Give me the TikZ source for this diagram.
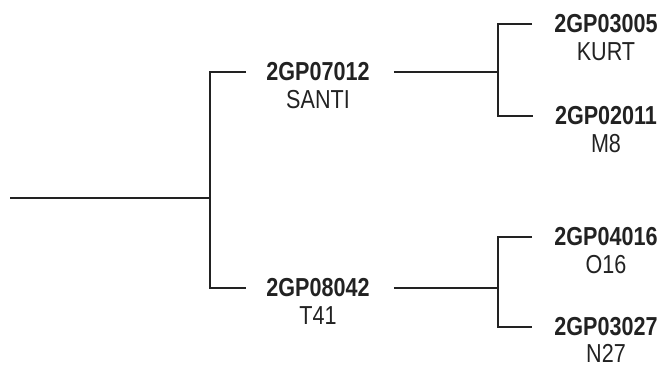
\documentclass[tikz,border=0pt]{standalone}
\usepackage{fontspec}
\setmainfont{Liberation Sans}[FakeStretch=0.83]
\definecolor{ink}{HTML}{222222}
\begin{document}
\begin{tikzpicture}[x=1pt,y=-1pt,
  codebox/.style={font=\fontsize{26}{30}\selectfont\bfseries,text=ink,inner sep=0pt},
  namebox/.style={font=\fontsize{26}{30}\selectfont,text=ink,inner sep=0pt},
  edge/.style={draw=ink,line width=1.1pt}]
\useasboundingbox (0,0) rectangle (661,364);
% labels
\node[codebox] (a) at (318,72) {2GP07012};
\node[namebox] (as) at (318,100) {SANTI};
\node[codebox] (b) at (318,288) {2GP08042};
\node[namebox] (bs) at (318,316) {T41};
\node[codebox] (c) at (606,24) {2GP03005};
\node[namebox] (cs) at (606,52) {KURT};
\node[codebox] (d) at (606,116) {2GP02011};
\node[namebox] (ds) at (606,144) {M8};
\node[codebox] (e) at (606,237) {2GP04016};
\node[namebox] (es) at (606,265) {O16};
\node[codebox] (f) at (606,327) {2GP03027};
\node[namebox] (fs) at (606,353) {N27};
% junctions
\coordinate (r) at (10,198);
\coordinate (j0) at (210,198);
\coordinate (j1) at (498,72);
\coordinate (j2) at (498,288);
% connectors
\draw[edge] (r) -- (j0);
\draw[edge] ([xshift=-20pt]a.west) -| (j0) |- ([xshift=-20pt]b.west);
\draw[edge] ([xshift=24pt]a.east) -- (a.east -| j1);
\draw[edge] ([xshift=-22pt]c.west) -| (j1) |- ([xshift=-22pt]d.west);
\draw[edge] ([xshift=24pt]b.east) -- (b.east -| j2);
\draw[edge] ([xshift=-22pt]e.west) -| (j2) |- ([xshift=-22pt]f.west);
\end{tikzpicture}
\end{document}
